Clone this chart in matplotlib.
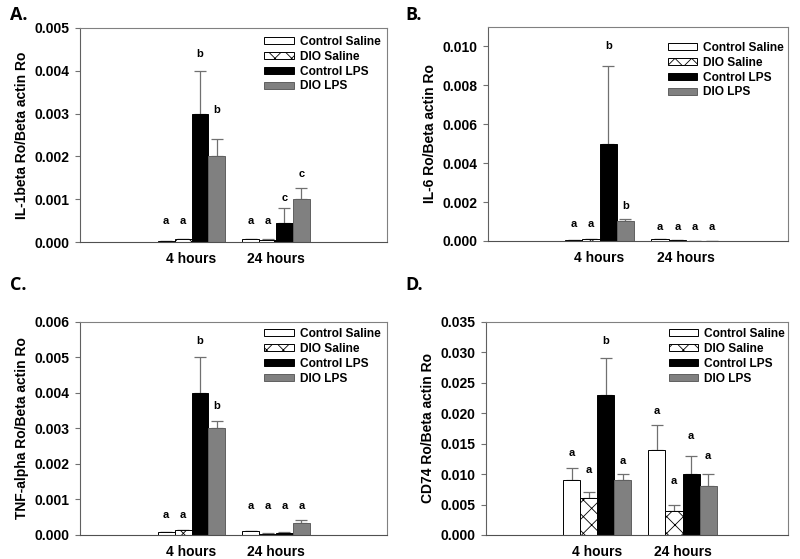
import matplotlib
matplotlib.use("Agg")
import matplotlib.pyplot as plt
import numpy as np

plt.rcParams['font.family'] = ['Liberation Sans', 'DejaVu Sans']
plt.rcParams['font.weight'] = 'bold'
plt.rcParams['hatch.linewidth'] = 0.6

groups = ["4 hours", "24 hours"]
series = ["Control Saline", "DIO Saline", "Control LPS", "DIO LPS"]

# Panel A: IL-1beta
a_vals = [[0.00002, 0.00007], [0.00006, 0.00005], [0.0030, 0.00045], [0.0020, 0.0010]]
a_err = [[0.000005, 0.000005], [0.00001, 0.00001], [0.0010, 0.00034], [0.0004, 0.00026]]
a_letters = [["a", "a"], ["a", "a"], ["b", "c"], ["b", "c"]]
a_letter_y = [[0.00049, 0.00049], [0.00049, 0.00049], [0.00439, 0.00104], [0.00309, 0.00159]]

# Panel B: IL-6
b_vals = [[0.00005, 0.00008], [0.0001, 0.00003], [0.0050, 0.00001], [0.0010, 0.00001]]
b_err = [[0.00001, 0.00001], [0.00001, 0.00001], [0.0040, 0.0], [0.00012, 0.0]]
b_letters = [["a", "a"], ["a", "a"], ["b", "a"], ["b", "a"]]
b_letter_y = [[0.00087, 0.00073], [0.00087, 0.00073], [0.0100, 0.00073], [0.0018, 0.00073]]

# Panel C: TNF-alpha
c_vals = [[0.00008, 0.0001], [0.00014, 0.00004], [0.0040, 0.00006], [0.0030, 0.00033]]
c_err = [[0.00001, 0.00002], [0.00001, 0.00001], [0.0010, 0.00003], [0.00022, 0.0001]]
c_letters = [["a", "a"], ["a", "a"], ["b", "a"], ["b", "a"]]
c_letter_y = [[0.00056, 0.00082], [0.00056, 0.00082], [0.00546, 0.00082], [0.00364, 0.00082]]

# Panel D: CD74
d_vals = [[0.009, 0.014], [0.006, 0.004], [0.023, 0.010], [0.009, 0.008]]
d_err = [[0.002, 0.004], [0.001, 0.001], [0.006, 0.003], [0.001, 0.002]]
d_letters = [["a", "a"], ["a", "a"], ["b", "a"], ["a", "a"]]
d_letter_y = [[0.0134, 0.0203], [0.0106, 0.0089], [0.0318, 0.0162], [0.0122, 0.0130]]

face = ["white", "white", "black", "#808080"]
edge = ["black", "black", "black", "#606060"]

fig = plt.figure(figsize=(8, 5.59), dpi=100)

def panel(rect, vals, errs, letters, letter_y, ymax, yticks, ylabel, hatch, xlim, leg_anchor):
    ax = fig.add_axes(rect)
    x = np.arange(len(groups))
    w = 0.2
    offs = [-1.5 * w, -0.5 * w, 0.5 * w, 1.5 * w]
    for i, s in enumerate(series):
        xs = x + offs[i]
        ax.bar(xs, vals[i], w, color=face[i], edgecolor=edge[i], linewidth=0.7,
               hatch=hatch if i == 1 else None, label=s, zorder=2)
        ax.errorbar(xs, vals[i], yerr=[np.zeros(len(groups)), errs[i]], fmt='none',
                    ecolor='#707070', elinewidth=0.9, capsize=4, capthick=0.9, zorder=1)
        for j in range(len(groups)):
            ax.text(xs[j], letter_y[i][j], letters[i][j], ha='center', va='center',
                    fontsize=8, fontweight='bold')
    ax.set_xlim(*xlim)
    ax.set_ylim(0, ymax)
    ax.set_yticks(yticks)
    ax.set_yticklabels(["%.3f" % t for t in yticks], fontsize=10, fontweight='bold')
    ax.set_xticks(x)
    ax.set_xticklabels(groups, fontsize=10, fontweight='bold')
    ax.tick_params(axis='x', length=0, pad=7)
    ax.tick_params(axis='y', direction='out', length=3.5, width=0.8, color='#707070', pad=4)
    for sp in ax.spines.values():
        sp.set_color('#808080')
        sp.set_linewidth(0.8)
    ax.spines['left'].set_color('#606060')
    ax.spines['bottom'].set_color('#505050')
    ax.set_ylabel(ylabel, fontsize=10, fontweight='bold')
    ax.legend(loc='upper left', bbox_to_anchor=leg_anchor, frameon=False,
              handlelength=2.45, handleheight=0.55, handletextpad=0.5, labelspacing=0.24,
              borderpad=0, borderaxespad=0, prop={'weight': 'bold', 'size': 8.6})
    return ax

panel([0.100, 0.567, 0.384, 0.383], a_vals, a_err, a_letters, a_letter_y, 0.005,
      [0, 0.001, 0.002, 0.003, 0.004, 0.005], "IL-1beta Ro/Beta actin Ro", 'xx',
      (-1.32, 2.316), (0.60, 0.963))
panel([0.610, 0.569, 0.375, 0.383], b_vals, b_err, b_letters, b_letter_y, 0.011,
      [0, 0.002, 0.004, 0.006, 0.008, 0.010], "IL-6 Ro/Beta actin Ro", 'xx',
      (-1.29, 2.18), (0.60, 0.93))
panel([0.100, 0.043, 0.384, 0.381], c_vals, c_err, c_letters, c_letter_y, 0.006,
      [0, 0.001, 0.002, 0.003, 0.004, 0.005, 0.006], "TNF-alpha Ro/Beta actin Ro", 'xx',
      (-1.32, 2.316), (0.60, 0.972))
panel([0.6075, 0.043, 0.3775, 0.381], d_vals, d_err, d_letters, d_letter_y, 0.035,
      [0, 0.005, 0.010, 0.015, 0.020, 0.025, 0.030, 0.035], "CD74 Ro/Beta actin Ro", 'xx',
      (-1.31, 2.24), (0.605, 0.972))

for lbl, px, py in [("A.", 10, 15), ("B.", 405, 15), ("C.", 10, 285), ("D.", 405, 285)]:
    fig.text(px / 800, 1 - py / 559, lbl, fontsize=13, fontweight='bold',
             family=['Open Sans', 'DejaVu Sans'], ha='left', va='center')

fig.savefig("out.png", dpi=100)
